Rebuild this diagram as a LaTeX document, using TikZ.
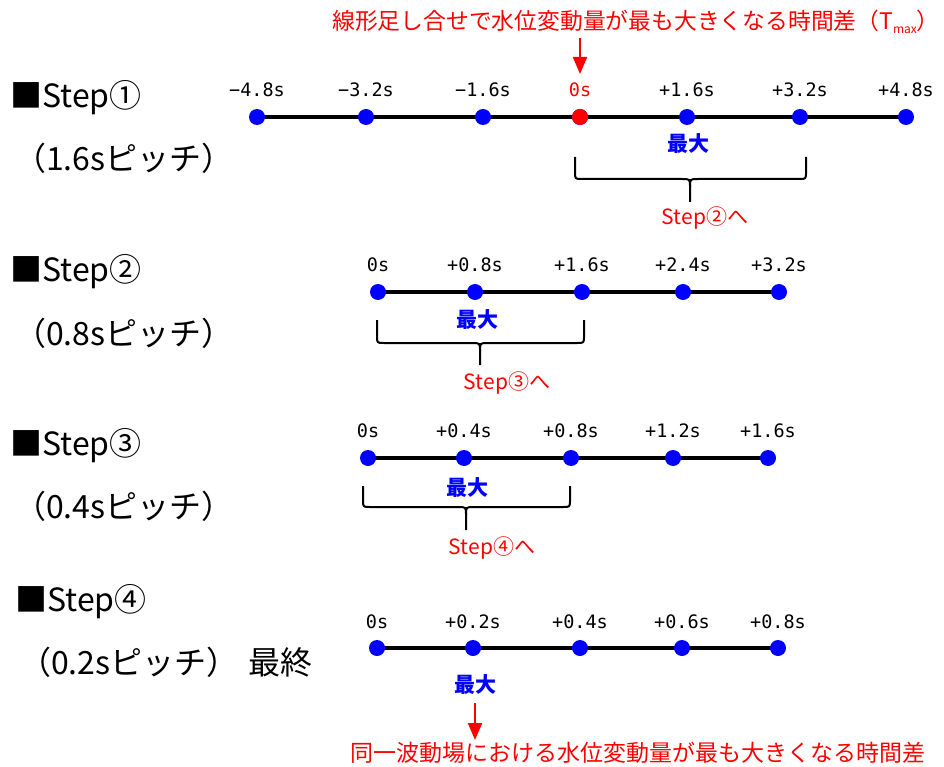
\documentclass[tikz,border=0pt]{standalone}
\usepackage{fontspec}
\setmainfont{Noto Sans CJK JP}
\newfontfamily\tickfont{DejaVu Sans Mono}
\usetikzlibrary{arrows.meta,backgrounds}
\newcommand{\bracedraw}[6]{%
  \draw[bracepath] (#1,#4) -- (#1,#5-7) .. controls (#1,#5) .. (#1+7,#5) -- (#3-8,#5) .. controls (#3,#5) .. (#3,#5+8) -- (#3,#6);
  \draw[bracepath] (#2,#4) -- (#2,#5-7) .. controls (#2,#5) .. (#2-7,#5) -- (#3+8,#5) .. controls (#3,#5) .. (#3,#5+8);
}
\begin{document}
\begin{tikzpicture}[x=1pt,y=-1pt,
  dot/.style={circle,fill=blue,inner sep=0pt,minimum size=16pt},
  axis/.style={line width=4pt},
  tick/.style={font=\tickfont\fontsize{18.5}{18.5}\selectfont,inner sep=0pt},
  big/.style={font=\fontsize{32}{32}\selectfont,inner sep=0pt,anchor=west},
  maxlab/.style={font=\fontsize{21}{21}\selectfont\bfseries,text=blue,inner sep=0pt},
  nextlab/.style={font=\fontsize{21}{21}\selectfont,text=red,inner sep=0pt},
  bracepath/.style={line width=2pt},
  redarrow/.style={red,line width=2pt,-{Triangle[width=14pt,length=17pt]}},
  note/.style={font=\fontsize{22.8}{22.8}\selectfont,text=red,inner sep=0pt}]

\useasboundingbox (0,0) rectangle (944,767);

% top note and arrow
\node[note] (ttop) at (636,22) {線形足し合せで水位変動量が最も大きくなる時間差（T\raisebox{-0.35ex}{\fontsize{12}{12}\selectfont max}）};

% ---------- Step 1
\node[big] (h1) at (10,98) {■Step①};
\node[big] (p1) at (14,158) {（1.6sピッチ）};
\foreach \x/\t/\c [count=\i] in {257/−4.8s/black,366/−3.2s/black,483/−1.6s/black,580/0s/red,687/+1.6s/black,800/+3.2s/black,906/+4.8s/black}{
  \node[dot] (s1d\i) at (\x,117) {};
  \node[tick,text=\c] (s1l\i) at (\x,90) {\t};
}
\node[dot,fill=red] (s1d4r) at (s1d4) {};
\begin{pgfonlayer}{background}
\draw[axis] (s1d1.center) -- (s1d7.center);
\end{pgfonlayer}
\coordinate (a1s) at (580,38);
\coordinate (a1e) at (580,74);
\draw[redarrow] (a1s) -- (a1e);
\node[maxlab] (m1) at (688,144) {最大};
\bracedraw{575}{806}{690}{157}{179}{202}
\node[nextlab] (n1) at (705,218) {Step②へ};

% ---------- Step 2
\node[big] (h2) at (10,272) {■Step②};
\node[big] (p2) at (14,333) {（0.8sピッチ）};
\foreach \x/\t [count=\i] in {378/0s,475/+0.8s,582/+1.6s,683/+2.4s,779/+3.2s}{
  \node[dot] (s2d\i) at (\x,292) {};
  \node[tick] (s2l\i) at (\x,265) {\t};
}
\begin{pgfonlayer}{background}
\draw[axis] (s2d1.center) -- (s2d5.center);
\end{pgfonlayer}
\node[maxlab] (m2) at (477,320) {最大};
\bracedraw{377}{584}{480}{320}{343}{365}
\node[nextlab] (n2) at (507,383) {Step③へ};

% ---------- Step 3
\node[big] (h3) at (10,446) {■Step③};
\node[big] (p3) at (14,506) {（0.4sピッチ）};
\foreach \x/\t [count=\i] in {368/0s,464/+0.4s,571/+0.8s,673/+1.2s,768/+1.6s}{
  \node[dot] (s3d\i) at (\x,458) {};
  \node[tick] (s3l\i) at (\x,431) {\t};
}
\begin{pgfonlayer}{background}
\draw[axis] (s3d1.center) -- (s3d5.center);
\end{pgfonlayer}
\node[maxlab] (m3) at (467,488) {最大};
\bracedraw{363}{570}{466}{486}{507}{530}
\node[nextlab] (n3) at (492,548) {Step④へ};

% ---------- Step 4
\node[big] (h4) at (15,602) {■Step④};
\node[big] (p4) at (19,662) {（0.2sピッチ）\hspace{10pt}最終};
\foreach \x/\t [count=\i] in {377/0s,473/+0.2s,580/+0.4s,682/+0.6s,778/+0.8s}{
  \node[dot] (s4d\i) at (\x,648) {};
  \node[tick] (s4l\i) at (\x,622) {\t};
}
\begin{pgfonlayer}{background}
\draw[axis] (s4d1.center) -- (s4d5.center);
\end{pgfonlayer}
\node[maxlab] (m4) at (475,685) {最大};
\coordinate (a2s) at (475,703);
\coordinate (a2e) at (475,740);
\draw[redarrow] (a2s) -- (a2e);
\node[note,font=\fontsize{23}{23}\selectfont] (tbot) at (638,753) {同一波動場における水位変動量が最も大きくなる時間差};
\end{tikzpicture}
\end{document}
